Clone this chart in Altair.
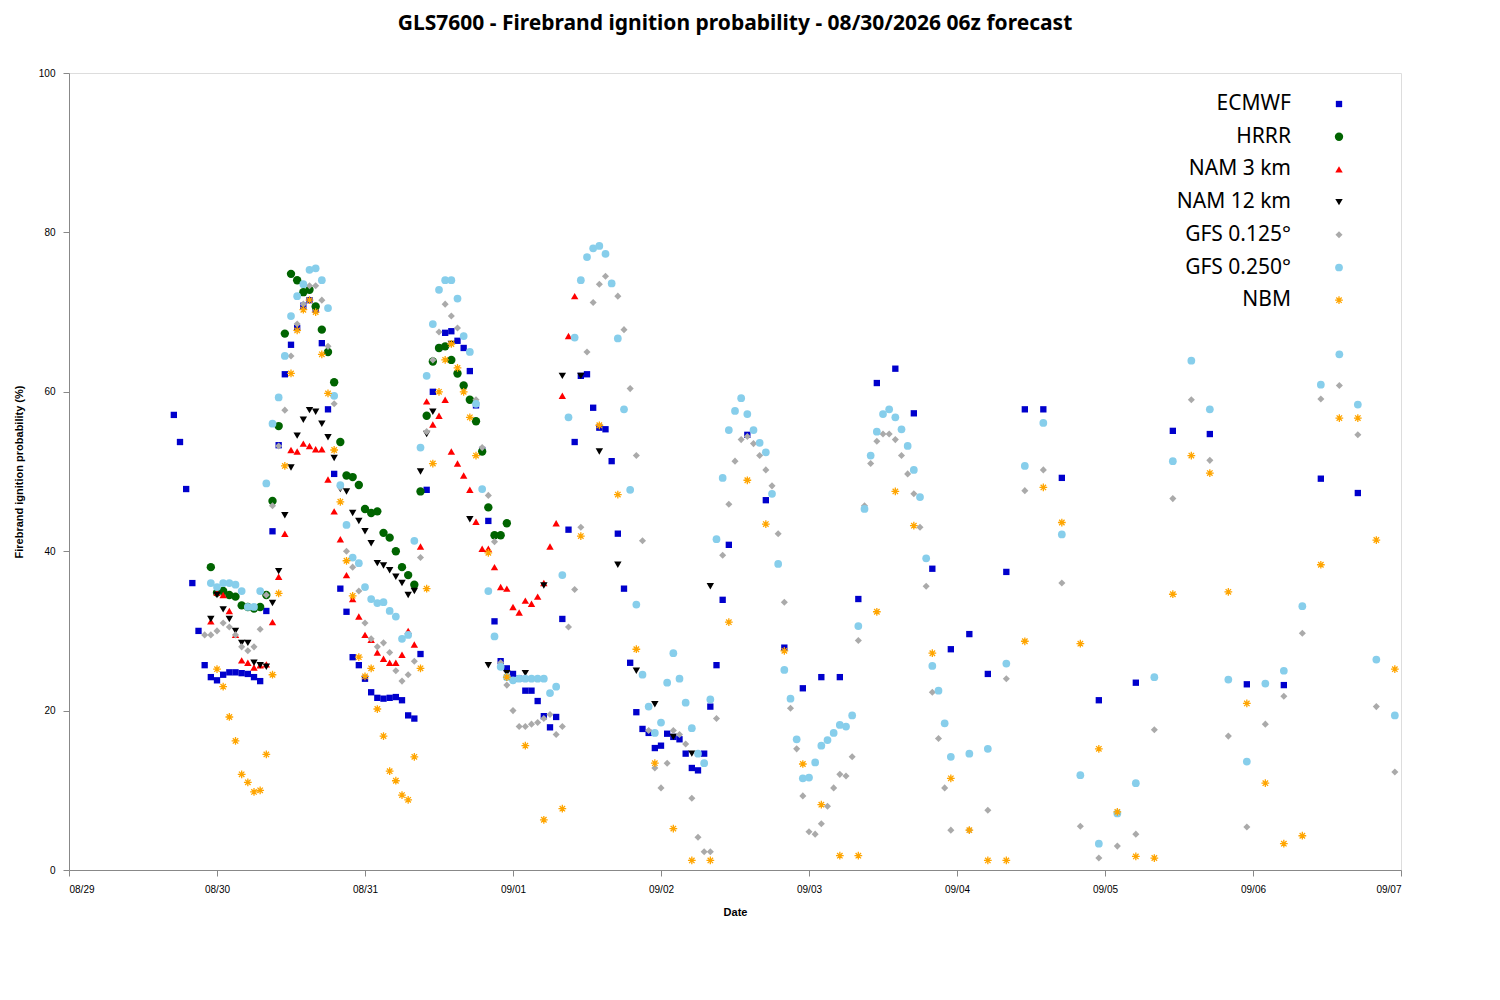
import pandas as pd
import altair as alt

# ── data (hours since 08/29 00z, ignition probability %) ────────────────────
DAY_LABELS = ["08/29", "08/30", "08/31", "09/01", "09/02", "09/03", "09/04", "09/05", "09/06", "09/07"]

ecmwf_h1_start = 17
ecmwf_h1 = [57.1, 53.7, 47.8, 36, 30, 25.7, 24.2, 23.8, 24.5, 24.8, 24.8, 24.7, 24.6, 24.2, 23.7, 32.5, 42.5,
            53.3, 62.2, 65.9, 68, 70.8, 71.5, 70.3, 66.1, 57.8, 49.7, 35.3, 32.4, 26.7, 25.7, 24, 22.3, 21.6,
            21.5, 21.6, 21.7, 21.3, 19.4, 19, 27.1, 47.7, 60, 65.5, 67.4, 67.6, 66.4, 65.5, 62.6, 58.3, 52.7,
            43.8, 31.2, 26.2, 25.3, 24.6, 24, 22.5, 22.5, 21.2, 19.3, 17.9, 19.2, 31.5, 42.7, 53.7, 62, 62.2,
            58, 55.5, 55.3, 51.3, 42.2, 35.3, 26, 19.8, 17.7, 17.2, 15.3, 15.6, 17.1, 16.7, 16.4, 14.6, 12.8,
            12.5, 14.6, 20.5, 25.7, 33.9, 40.8]
ecmwf_h3_start = 110
ecmwf_h3 = [54.6, 46.4, 27.9, 22.8, 24.2, 24.2, 34, 61.1, 62.9, 57.3, 37.8, 27.7, 29.6, 24.6, 37.4, 57.8, 57.8, 49.2]
ecmwf_h6_start = 167
ecmwf_h6 = [21.3, 23.5, 55.1, 54.7, 23.3, 23.2, 49.1, 47.3]

hrrr_start = 23
hrrr = [38, 34.8, 35, 34.5, 34.3, 33.2, 33, 32.8, 33, 34.5, 46.3, 55.7, 67.3, 74.8, 74, 72.5, 72.8, 70.7, 67.8,
        65, 61.2, 53.7, 49.5, 49.3, 48.3, 45.3, 44.8, 45, 42.3, 41.7, 40, 38, 37, 35.8, 47.5, 57, 63.8, 65.5,
        65.7, 64, 62.3, 60.8, 59, 56.3, 52.5, 45.5, 42, 42, 43.5]

nam3_start = 23
nam3 = [31.2, 34.8, 34.5, 32.5, 29.5, 26.3, 26, 25.4, 25.7, 25.8, 31.1, 36.8, 42.2, 52.7, 52.5, 53.5, 53.2, 52.8,
        52.8, 49, 45, 41.5, 37, 34, 31.8, 29.5, 28.9, 27.3, 26.5, 26, 26, 27, 30, 28.3, 40.6, 58.8, 55.9, 57,
        59, 52.5, 51, 49.5, 47.7, 43.7, 40.3, 40.3, 38, 35.5, 35.3, 33, 32.3, 33.8, 33.4, 34.3, 36, 40.6, 43.5,
        59.5, 67, 72]

nam12_h1_start = 23
nam12_h1 = [31.5, 34.5, 32.7, 31.5, 30, 28.5, 28.5, 26, 25.7, 25.5, 33.5, 37.5, 44.5, 50.5, 54.5, 56.5, 57.7,
            57.5, 56, 54.3, 51.7, 47.8, 47.5, 44.8, 43.8, 42.5, 41, 38.5, 38.2, 37.6, 36.8, 36, 34.5, 35, 50,
            54.7, 57.5]
nam12_h3_start = 62
nam12_h3 = [66, 44, 25.7, 24.7, 24.7, 35.7, 62, 62, 52.5, 38.3, 25, 20.8, 16.7, 14.6, 35.6]

gfs125_a_start = 22
gfs125_a = [29.5, 29.5, 30, 31, 30.5, 29.5, 28, 27.5, 28, 30.2, 34.5, 45.7, 53.2, 57.7, 64.5, 68.5, 71, 73.3,
            73.3, 71.5, 65.7, 58.5, 48, 40, 38, 35, 31, 29, 28, 28.5, 27.3, 25, 23.7, 24.5, 26.2, 39.2, 55, 64,
            67.5, 71, 69.5, 68, 67, 65, 59, 53, 47, 41.2, 26, 23.2, 20, 18, 18, 18.3, 18.5, 19, 19.5, 17, 18,
            30.5, 35.2, 43, 65, 71.2, 73.5, 74.5, 73.6, 72, 67.8, 60.4, 52, 41.3]
gfs125_b_start = 94
gfs125_b = [17.5, 12.8, 10.3, 13.4, 17.5, 17, 15.8, 9, 4.1, 2.3, 2.3]
gfs125_c_start = 105
gfs125_c = [19, 39.5, 45.9, 51.3, 54, 54.4, 53.5, 52, 50.2, 48.2, 42.2, 33.6, 20.3, 15.2, 9.3, 4.8, 4.5, 5.8, 8,
            10.3, 12, 11.8, 14.2, 28.8, 45.7, 51, 53.8, 54.7, 54.7, 54, 52, 49.7, 47.2, 43, 35.6, 22.3, 16.5,
            10.3, 5]
gfs125_h3_start = 146
gfs125_h3 = [5, 7.5, 24, 47.6, 50.2, 36, 5.5, 1.5, 3, 4.5, 17.6, 46.6, 59, 51.4, 16.8, 5.4, 18.3, 21.8, 29.7,
             59.1, 60.8, 54.6, 20.5, 12.3]

gfs250_a_start = 23
gfs250_a = [36, 35.5, 36, 36, 35.8, 35, 33, 33, 35, 48.5, 56, 59.3, 64.5, 69.5, 72, 73.5, 75.3, 75.5, 74, 70.5,
            59.5, 48.3, 43.3, 39.2, 38.5, 35.5, 34, 33.5, 33.6, 32.5, 31.8, 29, 29.5, 41.3, 53, 62, 68.5, 72.8,
            74, 74, 71.7, 67, 65, 58.5, 47.8, 35, 29.3, 25.5, 24.2, 23.8, 24, 24, 24, 24, 24, 22.2, 23, 37, 56.8,
            66.8, 74, 76.9, 78, 78.3, 77.3, 73.6, 66.7, 57.8, 47.7, 33.3, 24.5, 20.5, 17.2, 18.5, 23.5, 27.2, 24,
            21, 17.8, 14.6, 13.4]
gfs250_b_start = 104
gfs250_b = [21.4, 41.5, 49.2, 55.2, 57.6, 59.2, 57.2, 55.2, 53.6, 52.4, 47.2, 38.4, 25.1, 21.5, 16.4, 11.5, 11.6,
            13.5, 15.6, 16.3, 17.2, 18.2, 18, 19.4, 30.6, 45.3, 52, 55, 57.2, 57.8, 56.8, 55.3, 53.2, 50.2, 46.8,
            39.1, 25.6, 22.5, 18.4, 14.2]
gfs250_h3_start = 146
gfs250_h3 = [14.6, 15.2, 25.9, 50.7, 56.1, 42.1, 11.9, 3.3, 7.1, 10.9, 24.2, 51.3, 63.9, 57.8, 23.9, 13.6, 23.4,
             25, 33.1, 60.9, 64.7, 58.4, 26.4, 19.4]

nbm_h1_start = 24
nbm_h1 = [25.2, 23, 19.2, 16.2, 12, 11, 9.8, 10, 14.5, 24.5, 34.7, 50.7, 62.3, 67.7, 70.3, 71.5, 70, 64.7, 59.8,
          52.7, 46.2, 38.8, 34.4, 26.7, 24.3, 25.3, 20.2, 16.8, 12.4, 11.2, 9.4, 8.8, 14.2, 25.3, 35.3, 51, 60,
          64, 66, 63, 60, 56.8, 52]
nbm_h3_start = 68
nbm_h3 = [39.8, 24.2, 15.6, 6.3, 7.7, 41.9, 55.8, 47.1, 27.7, 13.4, 5.2, 1.2, 1.2, 31.1, 48.9, 43.4, 27.5, 13.3,
          8.2, 1.8, 1.8, 32.4, 47.5, 43.2, 27.2, 11.5, 5, 1.2, 1.2, 28.7, 48, 43.6, 28.4, 15.2, 7.3, 1.7, 1.5,
          34.6, 52, 49.8, 34.9, 20.9, 10.9, 3.3, 4.3, 38.3, 56.7, 56.7, 41.4, 25.2]

# ── styles ──────────────────────────────────────────────────────────────────
ASTERISK = "M-1,0L1,0M0,-1L0,1M-0.7,-0.7L0.7,0.7M-0.7,0.7L0.7,-0.7"
SERIES = [
    ("ECMWF", "#0000cc", "square", True, 40),
    ("HRRR", "#006400", "circle", True, 70),
    ("NAM 3 km", "#ff0000", "triangle-up", True, 55),
    ("NAM 12 km", "#000000", "triangle-down", True, 55),
    ("GFS 0.125°", "#aaaaaa", "diamond", True, 50),
    ("GFS 0.250°", "#87ceeb", "circle", True, 60),
    ("NBM", "#ffa500", ASTERISK, False, 60),
]


def segs(*pairs):
    hours, vals = [], []
    for start, step, values in pairs:
        hours += [start + step * i for i in range(len(values))]
        vals += values
    return pd.DataFrame({"h": hours, "v": vals})


frames = {
    "ECMWF": segs((ecmwf_h1_start, 1, ecmwf_h1), (ecmwf_h3_start, 3, ecmwf_h3), (ecmwf_h6_start, 6, ecmwf_h6)),
    "HRRR": segs((hrrr_start, 1, hrrr)),
    "NAM 3 km": segs((nam3_start, 1, nam3)),
    "NAM 12 km": segs((nam12_h1_start, 1, nam12_h1), (nam12_h3_start, 3, nam12_h3)),
    "GFS 0.125°": segs((gfs125_a_start, 1, gfs125_a), (gfs125_b_start, 1, gfs125_b),
                       (gfs125_c_start, 1, gfs125_c), (gfs125_h3_start, 3, gfs125_h3)),
    "GFS 0.250°": segs((gfs250_a_start, 1, gfs250_a), (gfs250_b_start, 1, gfs250_b),
                       (gfs250_h3_start, 3, gfs250_h3)),
    "NBM": segs((nbm_h1_start, 1, nbm_h1), (nbm_h3_start, 3, nbm_h3)),
}

W, H = 1332, 797
FONT = "Noto Sans"
label_expr = "[" + ",".join(f"'{d}'" for d in DAY_LABELS) + "][datum.value / 24]"

x_enc = alt.X("h:Q", scale=alt.Scale(domain=[0, 216], nice=False),
              axis=alt.Axis(values=list(range(0, 217, 24)), labelExpr=label_expr, title="Date",
                            grid=False, tickSize=6, labelPadding=8, titlePadding=12))
y_enc = alt.Y("v:Q", scale=alt.Scale(domain=[0, 100]),
              axis=alt.Axis(values=list(range(0, 101, 20)), title="Firebrand ignition probability (%)",
                            grid=False, tickSize=6, labelPadding=8, titlePadding=14))

layers = []
legend_layers = []
for i, (name, color, shape, filled, size) in enumerate(SERIES):
    pt = alt.Chart(frames[name]).mark_point(
        shape=shape, filled=filled, color=color, size=size, opacity=1,
        strokeWidth=1.3 if not filled else 0,
    ).encode(x=x_enc, y=y_enc)
    layers.append(pt)

    ly = 31 + i * 32.7
    legend_layers.append(
        alt.Chart(pd.DataFrame({"t": [name]})).mark_text(
            align="right", baseline="middle", fontSize=21, font=FONT, color="black"
        ).encode(x=alt.value(1222), y=alt.value(ly), text="t:N")
    )
    legend_layers.append(
        alt.Chart(pd.DataFrame({"t": [name]})).mark_point(
            shape=shape, filled=filled, color=color, size=size, opacity=1,
            strokeWidth=1.3 if not filled else 0,
        ).encode(x=alt.value(1270), y=alt.value(ly))
    )

chart = alt.layer(*layers, *legend_layers).properties(
    width=W, height=H,
    title=alt.Title("GLS7600 - Firebrand ignition probability - 08/30/2026 06z forecast",
                    fontSize=21, font=FONT, fontWeight="bold", offset=34),
).configure_view(stroke="black", strokeWidth=1.2).configure_axis(
    labelFont=FONT, titleFont=FONT, labelFontSize=20, titleFontSize=21, titleFontWeight="bold",
    labelColor="black", titleColor="black", domain=False, tickColor="black",
).configure(background="white")

chart.save("out.html", embed_options={"renderer": "svg", "actions": False})
